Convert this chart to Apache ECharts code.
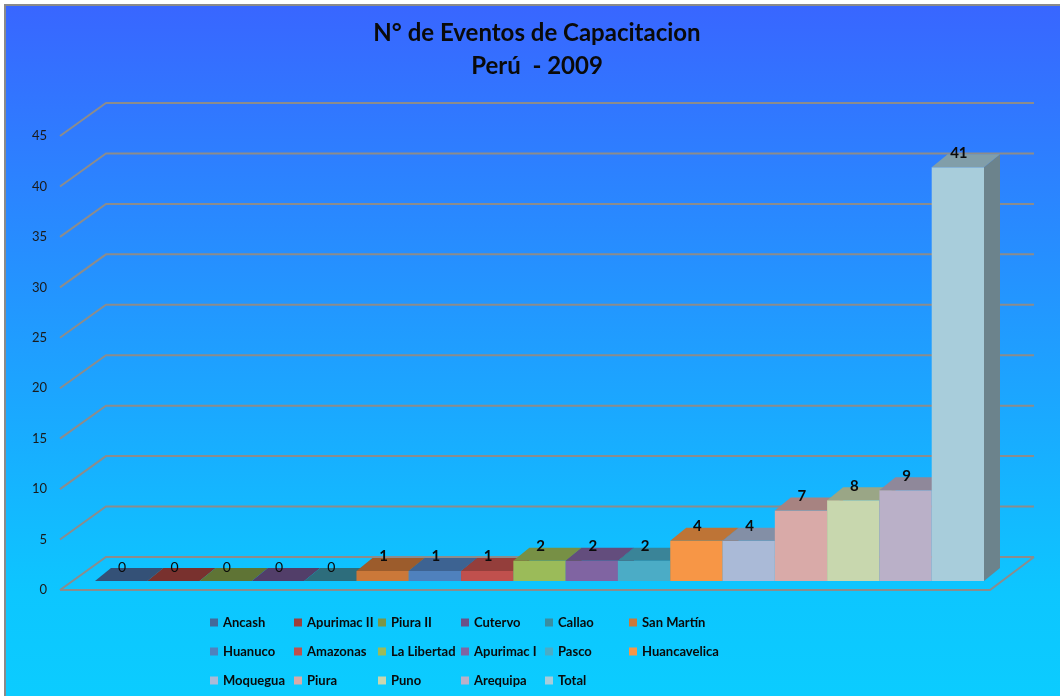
<!DOCTYPE html>
<html>
<head>
<meta charset="utf-8">
<script src="https://cdn.jsdelivr.net/npm/echarts@6/dist/echarts.min.js"></script>
<style>
html,body{margin:0;padding:0;background:#fff;}
#chart{width:1060px;height:696px;}
</style>
</head>
<body>
<div id="chart"></div>
<script>
const categories = ['Ancash','Apurimac II','Piura II','Cutervo','Callao','San Martín','Huanuco','Amazonas','La Libertad','Apurimac I','Pasco','Huancavelica','Moquegua','Piura','Puno','Arequipa','Total'];
const values = [0,0,0,0,0,1,1,1,2,2,2,4,4,7,8,9,41];
const yTicks = [0,5,10,15,20,25,30,35,40,45];
const colors = ['#43699A','#9D3F3C','#7B9645','#6B5088','#3A8DA1','#CB7839','#4F81BD','#C0504D','#9BBB59','#8064A2','#4BACC6','#F79646','#AABAD7','#D9AAA8','#C8D7AE','#BAB0C8','#A8CDDB'];
const titleLines = ['N° de Eventos de Capacitacion', 'Perú  - 2009'];

const FONT = 'Lato, "Open Sans", sans-serif';
const DX = 16, DY = 13;       // bar depth
const WDX = 46, WDY = 33;     // wall depth

function shade(hex, f) {
  const n = parseInt(hex.slice(1), 16);
  const r = Math.round(((n >> 16) & 255) * f), g = Math.round(((n >> 8) & 255) * f), b = Math.round((n & 255) * f);
  return 'rgb(' + r + ',' + g + ',' + b + ')';
}

function renderWall(params, api) {
  const v = api.value(1);
  const p = api.coord([0, v]);
  const cs = params.coordSys;
  const xEnd = cs.x + cs.width;
  const style = { stroke: '#8C8C8C', lineWidth: 2, fill: null };
  const children = [{
    type: 'polyline',
    shape: { points: [[p[0], p[1]], [p[0] + WDX, p[1] - WDY], [xEnd, p[1] - WDY]] },
    style: style
  }];
  if (v === 0) {
    children.push({
      type: 'polyline',
      shape: { points: [[p[0], p[1]], [xEnd - 44, p[1]], [xEnd, p[1] - WDY]] },
      style: style
    });
  }
  return { type: 'group', children: children };
}

function renderBar(params, api) {
  const i = api.value(0), v = api.value(1);
  const base = api.coord([i, 0]);
  const top = api.coord([i, v]);
  const bw = api.size([1, 0])[0];
  const xl = base[0] - bw / 2, xr = base[0] + bw / 2, by = base[1], ty = top[1];
  const c = colors[params.seriesIndex - 1];
  return {
    type: 'group',
    children: [
      { type: 'polygon', shape: { points: [[xr, ty], [xr + DX, ty - DY], [xr + DX, by - DY], [xr, by]] },
        style: { fill: shade(c, 0.64) } },
      { type: 'rect', shape: { x: xl, y: ty, width: bw, height: by - ty },
        style: { fill: c } },
      { type: 'polygon', shape: { points: [[xl, ty], [xr, ty], [xr + DX, ty - DY], [xl + DX, ty - DY]] },
        style: { fill: shade(c, 0.77) } },
      { type: 'text',
        style: { text: String(v), x: base[0] + 1, y: ty - 7,
          align: 'center', verticalAlign: 'bottom', textAlign: 'center', textVerticalAlign: 'bottom',
          font: (v === 0 ? 'normal 14px ' : 'bold 15px ') + FONT, fill: '#0a0a0a' } }
    ]
  };
}

const series = [{
  type: 'custom', name: '_wall', xAxisIndex: 0, yAxisIndex: 0,
  data: yTicks.map(v => [0, v]), renderItem: renderWall, silent: true
}];
categories.forEach((name, i) => {
  series.push({
    type: 'custom', name: name, xAxisIndex: 1, yAxisIndex: 1,
    itemStyle: { color: colors[i] },
    data: [[i, values[i]]], renderItem: renderBar
  });
});

const colLeft = [210, 294, 378, 461, 545, 629];
const legends = colLeft.map((x, c) => ({
  orient: 'vertical', left: x, top: 615,
  itemWidth: 8, itemHeight: 8, icon: 'rect', itemGap: 14, padding: 0,
  selectedMode: false,
  textStyle: { fontFamily: FONT, fontWeight: 'bold', fontSize: 13, color: '#0a0a0a', lineHeight: 15 },
  data: categories.filter((_, i) => i % 6 === c)
}));

const chart = echarts.init(document.getElementById('chart'), null, { renderer: 'canvas' });
chart.setOption({
  backgroundColor: '#ffffff',
  animation: false,
  graphic: [{
    type: 'rect', z: -10, silent: true,
    shape: { x: 5, y: 5, width: 1100, height: 800 },
    style: {
      fill: { type: 'linear', global: true, x: 0, y: 0, x2: 0, y2: 696,
        colorStops: [{ offset: 0, color: '#3965FF' }, { offset: 0.85, color: '#0DC6FF' }, { offset: 1, color: '#0BCCFF' }] },
      stroke: '#8A8A8A', lineWidth: 2
    }
  }],
  title: {
    text: titleLines.join('\n'), left: 537, textAlign: 'center', top: 17, padding: 0,
    textStyle: { fontFamily: FONT, fontWeight: 'bold', fontSize: 24, color: '#0a0a0a', lineHeight: 33 }
  },
  legend: legends,
  grid: [
    { left: 60, right: 26, top: 136, bottom: 106 },
    { left: 95, right: 76, top: 127, bottom: 115 }
  ],
  xAxis: [
    { gridIndex: 0, type: 'value', min: 0, max: 1, show: false },
    { gridIndex: 1, type: 'category', data: categories, show: false }
  ],
  yAxis: [
    { gridIndex: 0, type: 'value', min: 0, max: 45, interval: 5,
      axisLine: { show: false }, axisTick: { show: false }, splitLine: { show: false },
      axisLabel: { margin: 13, fontFamily: FONT, fontSize: 13, color: '#1a1a1a' } },
    { gridIndex: 1, type: 'value', min: 0, max: 45, interval: 5, show: false }
  ],
  series: series
});
</script>
</body>
</html>
